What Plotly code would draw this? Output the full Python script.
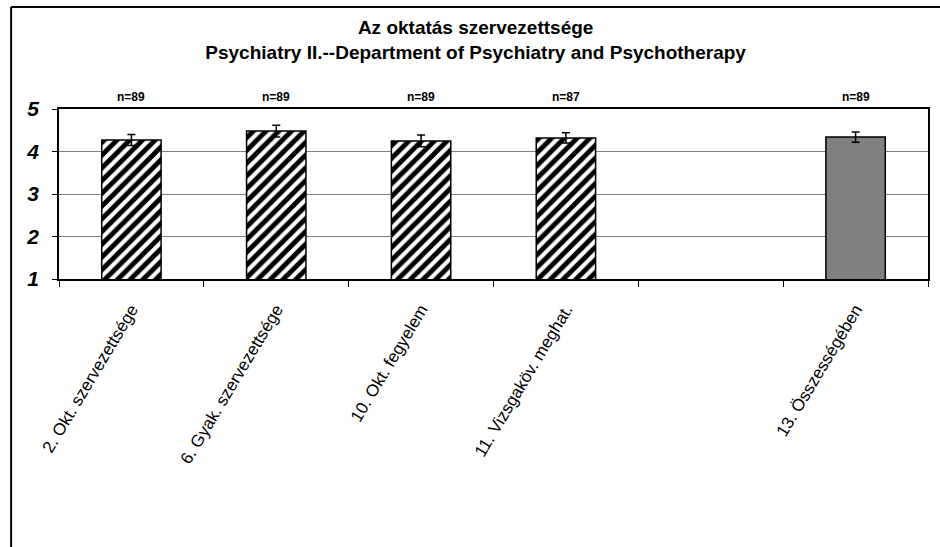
import plotly.graph_objects as go

# ─── adatok ───
categories = ["2. Okt. szervezettsége", "6. Gyak. szervezettsége", "10. Okt. fegyelem",
              "11. Vizsgaköv. meghat.", " ", "13. Összességében"]
means = [4.27, 4.48, 4.25, 4.32, None, 4.34]
errors = [0.13, 0.14, 0.14, 0.12, None, 0.12]
n_labels = ["n=89", "n=89", "n=89", "n=87", "", "n=89"]
striped = [True, True, True, True, False, False]

FONT = "Liberation Sans, Arial, sans-serif"

fig = go.Figure()

# csíkos oszlopok
fig.add_trace(go.Bar(
    x=[c for c, s in zip(categories, striped) if s],
    y=[m for m, s in zip(means, striped) if s],
    error_y=dict(type='data', array=[e for e, s in zip(errors, striped) if s],
                 color='black', thickness=1.5, width=4),
    marker=dict(color='white', line=dict(color='black', width=1.5),
                pattern=dict(shape='/', fgcolor='black', bgcolor='white',
                             size=9, solidity=0.55, fillmode='replace')),
    width=0.41, showlegend=False,
))

# összesített (szürke) oszlop
fig.add_trace(go.Bar(
    x=categories[-1:], y=means[-1:],
    error_y=dict(type='data', array=errors[-1:], color='black', thickness=1.5, width=4),
    marker=dict(color='#808080', line=dict(color='black', width=1.5)),
    width=0.41, showlegend=False,
))

# n= feliratok a diagram fölött
for c, t in zip(categories, n_labels):
    if t:
        fig.add_annotation(x=c, y=1.07, yref='paper', yanchor='middle', text=f"<b>{t}</b>",
                           showarrow=False, font=dict(size=12, color='black', family=FONT))

# keret
fig.add_shape(type='line', xref='paper', yref='paper', x0=-0.0551, x1=-0.0551,
              y0=1.6, y1=-1.6, line=dict(color='black', width=2))
fig.add_shape(type='line', xref='paper', yref='paper', x0=-0.0551, x1=1.02,
              y0=1.6, y1=1.6, line=dict(color='black', width=2))

fig.update_layout(
    width=940, height=547,
    paper_bgcolor='white', plot_bgcolor='white',
    margin=dict(l=59, r=10, t=109, b=268),
    font=dict(family=FONT, color='black'),
    title=dict(text="<b>Az oktatás szervezettsége<br>Psychiatry II.--Department of Psychiatry and Psychotherapy</b>",
               x=0.506, xanchor='center', y=0.937, yanchor='top',
               font=dict(size=19, color='black', family=FONT)),
    xaxis=dict(type='category', categoryorder='array', categoryarray=categories,
               tickangle=-59, tickfont=dict(size=17, family=FONT),
               ticks='outside', ticklen=6, tickson='boundaries', tickcolor='black',
               ticklabelstandoff=12,
               showline=True, linecolor='black', linewidth=1.5, mirror=True,
               showgrid=False),
    yaxis=dict(range=[1, 5], tickvals=[1, 2, 3, 4, 5], ticks='outside', ticklen=5,
               tickcolor='black', ticklabelstandoff=9,
               tickfont=dict(size=21, family=FONT, weight='bold', style='italic'),
               showline=True, linecolor='black', linewidth=1.5, mirror=True,
               gridcolor='#808080', gridwidth=1, zeroline=False),
)

fig.write_html("out.html", config={'displayModeBar': False},
               post_script="document.body.style.margin='0px';")
